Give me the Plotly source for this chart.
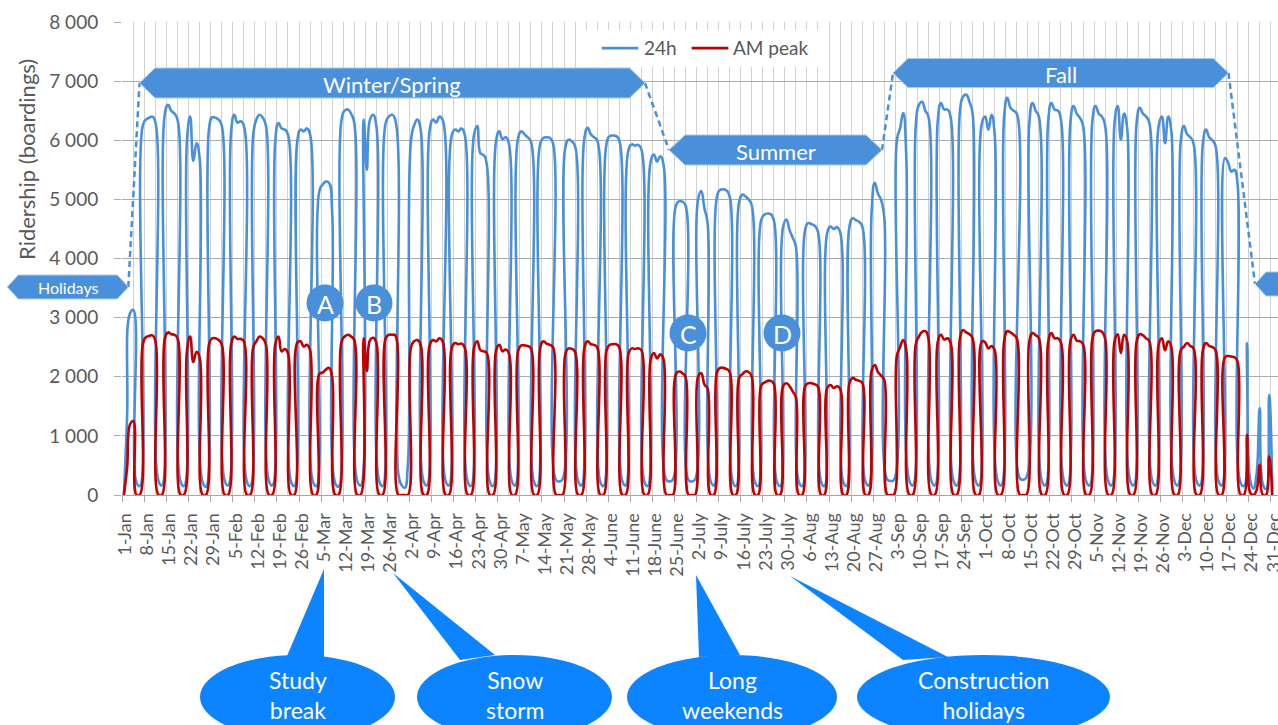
import plotly.graph_objects as go

FIG_W, FIG_H = 1278, 725
PLOT_L, PLOT_R, PLOT_T, PLOT_B = 122, 1278, 22, 495

# Daily boardings for 2013, one row per week (Mon..Sun).
# First row starts on Tuesday 1 January, last row ends on Tuesday 31 December.
boardings_24h = [
    [0, 1300, 3080, 3130, 210, 150],
    [6250, 6350, 6380, 6400, 6300, 230, 160],
    [6450, 6600, 6500, 6450, 6350, 220, 150],
    [6000, 6400, 5650, 5950, 5700, 210, 140],
    [6200, 6390, 6380, 6350, 6250, 230, 160],
    [6150, 6430, 6300, 6320, 6250, 220, 150],
    [6100, 6350, 6430, 6380, 6250, 230, 160],
    [6000, 6290, 6200, 6180, 6100, 220, 150],
    [6000, 6180, 6150, 6200, 6100, 210, 150],
    [5150, 5250, 5300, 5280, 4800, 200, 140],
    [6350, 6500, 6520, 6450, 6300, 230, 160],
    [6350, 5500, 6350, 6430, 6250, 220, 150],
    [6300, 6400, 6430, 6350, 350, 170, 120],
    [500, 6000, 6250, 6350, 6200, 230, 160],
    [6200, 6350, 6300, 6400, 6350, 230, 160],
    [6100, 6180, 6150, 6200, 6100, 220, 150],
    [6100, 6240, 5780, 5750, 5600, 220, 150],
    [6000, 6150, 6020, 6050, 5950, 230, 160],
    [6050, 6150, 6100, 6050, 5980, 220, 150],
    [5950, 6040, 6050, 6040, 5950, 250, 230],
    [260, 5900, 6010, 5980, 5900, 230, 160],
    [6050, 6210, 6100, 6050, 6000, 220, 150],
    [5950, 6070, 6080, 6070, 6000, 230, 160],
    [5850, 5930, 5910, 5920, 5850, 220, 150],
    [5650, 5760, 5640, 5730, 5600, 250, 230],
    [260, 4900, 4970, 4960, 4900, 250, 230],
    [260, 5000, 5140, 4850, 4600, 230, 160],
    [5050, 5160, 5170, 5150, 5050, 220, 150],
    [4950, 5080, 5050, 5000, 4900, 220, 150],
    [4650, 4740, 4760, 4750, 4650, 220, 150],
    [4550, 4660, 4480, 4350, 4200, 210, 150],
    [4500, 4600, 4580, 4550, 4450, 220, 150],
    [4450, 4540, 4500, 4530, 4450, 220, 150],
    [4550, 4680, 4650, 4620, 4550, 230, 160],
    [4800, 5280, 5100, 4990, 4700, 260, 240],
    [250, 6000, 6200, 6460, 5700, 230, 160],
    [6250, 6600, 6650, 6500, 6400, 230, 160],
    [6350, 6630, 6520, 6520, 6400, 230, 160],
    [6500, 6740, 6770, 6650, 6450, 230, 160],
    [6300, 6400, 6180, 6430, 6100, 230, 160],
    [6400, 6720, 6550, 6500, 6450, 280, 260],
    [290, 6300, 6630, 6500, 6400, 230, 160],
    [6350, 6630, 6520, 6500, 6350, 230, 160],
    [6300, 6580, 6450, 6380, 6250, 230, 160],
    [6350, 6580, 6450, 6400, 6250, 230, 160],
    [6300, 6580, 6010, 6450, 6200, 230, 160],
    [6300, 6550, 6450, 6400, 6300, 230, 160],
    [6250, 6400, 5950, 6400, 6150, 230, 160],
    [6000, 6240, 6100, 6050, 5950, 230, 160],
    [5950, 6180, 6050, 6000, 5900, 230, 160],
    [5700, 5620, 5470, 5500, 5250, 200, 150],
    [2570, 250, 110, 350, 1470, 180, 100],
    [1690, 100],
]

boardings_am_peak = [
    [0, 450, 1200, 1250, 0, 0],
    [2550, 2670, 2690, 2700, 2600, 0, 0],
    [2650, 2750, 2720, 2710, 2650, 0, 0],
    [2450, 2680, 2250, 2420, 2330, 0, 0],
    [2550, 2650, 2650, 2620, 2550, 0, 0],
    [2550, 2680, 2640, 2640, 2600, 0, 0],
    [2500, 2600, 2680, 2650, 2550, 0, 0],
    [2550, 2680, 2430, 2470, 2400, 0, 0],
    [2580, 2600, 2510, 2540, 2450, 0, 0],
    [2050, 2070, 2120, 2150, 2000, 0, 0],
    [2600, 2680, 2710, 2680, 2620, 0, 0],
    [2650, 2100, 2620, 2660, 2580, 0, 0],
    [2650, 2710, 2710, 2700, 0, 0, 0],
    [0, 2500, 2600, 2620, 2550, 0, 0],
    [2550, 2620, 2600, 2650, 2600, 0, 0],
    [2500, 2570, 2550, 2560, 2500, 0, 0],
    [2500, 2600, 2450, 2430, 2400, 0, 0],
    [2450, 2540, 2430, 2460, 2400, 0, 0],
    [2450, 2530, 2530, 2520, 2480, 0, 0],
    [2500, 2600, 2560, 2540, 2500, 0, 0],
    [0, 2400, 2480, 2470, 2420, 0, 0],
    [2500, 2600, 2550, 2540, 2500, 0, 0],
    [2450, 2540, 2550, 2550, 2500, 0, 0],
    [2400, 2480, 2470, 2480, 2450, 0, 0],
    [2300, 2400, 2310, 2380, 2300, 0, 0],
    [0, 2050, 2090, 2060, 2000, 0, 0],
    [0, 2000, 2060, 1870, 1800, 0, 0],
    [2080, 2150, 2150, 2130, 2080, 0, 0],
    [1980, 2040, 2090, 2080, 2000, 0, 0],
    [1850, 1900, 1930, 1930, 1880, 0, 0],
    [1850, 1890, 1840, 1750, 1650, 0, 0],
    [1850, 1890, 1890, 1870, 1830, 0, 0],
    [1820, 1860, 1810, 1840, 1800, 0, 0],
    [1900, 1980, 1950, 1930, 1900, 0, 0],
    [2100, 2200, 2080, 2020, 1950, 0, 0],
    [0, 2350, 2500, 2620, 2450, 0, 0],
    [2550, 2680, 2760, 2770, 2650, 0, 0],
    [2600, 2710, 2630, 2650, 2580, 0, 0],
    [2650, 2790, 2750, 2720, 2650, 0, 0],
    [2600, 2580, 2480, 2520, 2450, 0, 0],
    [2600, 2770, 2750, 2710, 2650, 0, 0],
    [0, 2600, 2740, 2700, 2650, 0, 0],
    [2600, 2740, 2650, 2650, 2580, 0, 0],
    [2600, 2710, 2610, 2600, 2550, 0, 0],
    [2650, 2770, 2780, 2760, 2650, 0, 0],
    [2600, 2720, 2400, 2710, 2600, 0, 0],
    [2600, 2720, 2700, 2650, 2600, 0, 0],
    [2550, 2650, 2450, 2600, 2500, 0, 0],
    [2450, 2510, 2570, 2520, 2480, 0, 0],
    [2450, 2570, 2520, 2500, 2450, 0, 0],
    [2330, 2350, 2340, 2330, 2250, 0, 0],
    [1020, 40, 0, 80, 510, 0, 0],
    [650, 0],
]

week_labels = [
    "1-Jan", "8-Jan", "15-Jan", "22-Jan", "29-Jan",
    "5-Feb", "12-Feb", "19-Feb", "26-Feb",
    "5-Mar", "12-Mar", "19-Mar", "26-Mar",
    "2-Apr", "9-Apr", "16-Apr", "23-Apr", "30-Apr",
    "7-May", "14-May", "21-May", "28-May",
    "4-June", "11-June", "18-June", "25-June",
    "2-July", "9-July", "16-July", "23-July", "30-July",
    "6-Aug", "13-Aug", "20-Aug", "27-Aug",
    "3-Sep", "10-Sep", "17-Sep", "24-Sep",
    "1-Oct", "8-Oct", "15-Oct", "22-Oct", "29-Oct",
    "5-Nov", "12-Nov", "19-Nov", "26-Nov",
    "3-Dec", "10-Dec", "17-Dec", "24-Dec", "31-Dec",
]

series_names = ["24h", "AM peak"]
series_colors = ["#4A8FD9", "#C00000"]

BANNER = "#4A8FD9"
CALLOUT = "#0C84FF"
TEXT_GREY = "#595959"
FONT = "Lato"


def flatten(rows):
    return [v for row in rows for v in row]


daily_24h = flatten(boardings_24h)
daily_am = flatten(boardings_am_peak)
n_days = len(daily_24h)
# each day is plotted in the middle of its category slot
day_centre = [i + 0.5 for i in range(n_days)]
week_ticks = [7 * i for i in range(len(week_labels))]

X_MIN = -0.1
X_MAX = X_MIN + (PLOT_R - PLOT_L) / 3.155


def px_x(x):
    return (x - PLOT_L) / (PLOT_R - PLOT_L)


def px_y(y):
    return (PLOT_B - y) / (PLOT_B - PLOT_T)


def banner_path(x_left, x_right, y_mid, half_h, inset):
    pts = [
        (x_left, y_mid), (x_left + inset, y_mid - half_h),
        (x_right - inset, y_mid - half_h), (x_right, y_mid),
        (x_right - inset, y_mid + half_h), (x_left + inset, y_mid + half_h),
    ]
    return "M " + " L ".join(f"{px_x(x):.5f},{px_y(y):.5f}" for x, y in pts) + " Z"


def tri_path(pts):
    return "M " + " L ".join(f"{px_x(x):.5f},{px_y(y):.5f}" for x, y in pts) + " Z"


fig = go.Figure()
fig.add_trace(go.Scatter(
    x=day_centre, y=daily_24h, mode="lines", name=series_names[0],
    line=dict(color=series_colors[0], width=2.6, shape="spline", smoothing=1.3),
    showlegend=False,
))
fig.add_trace(go.Scatter(
    x=day_centre, y=daily_am, mode="lines", name=series_names[1],
    line=dict(color=series_colors[1], width=2.6, shape="spline", smoothing=1.3),
    showlegend=False,
))

shapes = []
annotations = []

# season banners and the dashed links between them
banners = [
    ("Holidays", 7.3, 128.3, 287, 12, 11, 16),
    ("Winter/Spring", 139.5, 645, 83, 15, 15.5, 22),
    ("Summer", 669, 882, 150, 15, 16, 22),
    ("Fall", 893, 1228.5, 73, 14.5, 15, 22),
    ("", 1255, 1376, 284, 12, 11, 16),
]
links = [
    (128.3, 287, 139.5, 83),
    (645, 83, 669, 150),
    (882, 150, 893, 73),
    (1228.5, 73, 1255, 284),
]
for x0, y0, x1, y1 in links:
    shapes.append(dict(
        type="line", xref="paper", yref="paper",
        x0=px_x(x0), y0=px_y(y0), x1=px_x(x1), y1=px_y(y1),
        line=dict(color=series_colors[0], width=2.5, dash="6px,4px"),
    ))
for label, xl, xr, ym, hh, ins, fs in banners:
    shapes.append(dict(
        type="path", xref="paper", yref="paper",
        path=banner_path(xl, xr, ym, hh, ins),
        fillcolor=BANNER, line=dict(color="#A9CBEF", width=1),
    ))
    if label:
        annotations.append(dict(
            xref="paper", yref="paper", x=px_x((xl + xr) / 2), y=px_y(ym + 1),
            text=label, showarrow=False, xanchor="center", yanchor="middle",
            font=dict(family=FONT, size=fs, color="white"),
        ))

# lettered markers
markers = [("A", 325, 303), ("B", 374, 303), ("C", 688, 333), ("D", 782, 333)]
for letter, cx, cy in markers:
    r = 18.5
    shapes.append(dict(
        type="circle", xref="paper", yref="paper",
        x0=px_x(cx - r), x1=px_x(cx + r), y0=px_y(cy + r), y1=px_y(cy - r),
        fillcolor=BANNER, line=dict(color=BANNER, width=0),
    ))
    annotations.append(dict(
        xref="paper", yref="paper", x=px_x(cx), y=px_y(cy + 1),
        text=letter, showarrow=False, xanchor="center", yanchor="middle",
        font=dict(family=FONT, size=25, color="white"),
    ))

# speech-bubble callouts below the axis
callouts = [
    ("Study<br>break", 200, 395, [(324, 569), (287, 656), (324, 657)]),
    ("Snow<br>storm", 417, 612, [(393, 573), (460, 660), (495, 655)]),
    ("Long<br>weekends", 627, 837, [(696, 575), (699, 657), (740, 655)]),
    ("Construction<br>holidays", 857, 1110, [(790, 576), (903, 660), (948, 657)]),
]
for text, ex0, ex1, tail in callouts:
    shapes.append(dict(
        type="path", xref="paper", yref="paper", path=tri_path(tail),
        fillcolor=CALLOUT, line=dict(color=CALLOUT, width=0),
    ))
    shapes.append(dict(
        type="circle", xref="paper", yref="paper",
        x0=px_x(ex0), x1=px_x(ex1), y0=px_y(739), y1=px_y(655),
        fillcolor=CALLOUT, line=dict(color=CALLOUT, width=0),
    ))
    annotations.append(dict(
        xref="paper", yref="paper", x=px_x((ex0 + ex1) / 2), y=px_y(695),
        text=text, showarrow=False, xanchor="center", yanchor="middle",
        font=dict(family=FONT, size=23, color="white"),
    ))

# legend box
shapes.append(dict(
    type="rect", xref="paper", yref="paper",
    x0=px_x(578), x1=px_x(820), y0=px_y(67), y1=px_y(30),
    fillcolor="white", line=dict(width=0),
))
legend_items = [(601.7, 638.3, 641.7), (691.7, 728.3, 730.7)]
for (lx0, lx1, tx), name, color in zip(legend_items, series_names, series_colors):
    shapes.append(dict(
        type="line", xref="paper", yref="paper",
        x0=px_x(lx0), x1=px_x(lx1), y0=px_y(48), y1=px_y(48),
        line=dict(color=color, width=2.75),
    ))
    annotations.append(dict(
        xref="paper", yref="paper", x=px_x(tx), y=px_y(48),
        text=name, showarrow=False, xanchor="left", yanchor="middle",
        font=dict(family=FONT, size=19, color=TEXT_GREY),
    ))

# y-axis title
annotations.append(dict(
    xref="paper", yref="paper", x=px_x(26), y=px_y(160),
    text="Ridership (boardings)", showarrow=False, textangle=-90,
    xanchor="center", yanchor="middle",
    font=dict(family=FONT, size=22, color=TEXT_GREY),
))

fig.update_layout(
    width=FIG_W, height=FIG_H,
    margin=dict(l=PLOT_L, r=FIG_W - PLOT_R, t=PLOT_T, b=FIG_H - PLOT_B),
    paper_bgcolor="white", plot_bgcolor="white",
    separators=". ",
    font=dict(family=FONT, color=TEXT_GREY),
    shapes=shapes, annotations=annotations,
    xaxis=dict(
        range=[X_MIN, X_MAX], tickmode="array", automargin=False,
        tickvals=week_ticks, ticktext=week_labels, tickangle=-90,
        ticks="outside", ticklen=6, tickcolor="#A6A6A6",
        ticklabelshift=3, ticklabelstandoff=4, ticklabeloverflow="allow",
        tickfont=dict(family=FONT, size=18, color=TEXT_GREY),
        showgrid=True, gridcolor="#D0D0D0", gridwidth=1,
        minor=dict(tickmode="linear", tick0=0, dtick=3.5, showgrid=True,
                   gridcolor="#D0D0D0", gridwidth=1, ticks=""),
        showline=True, linecolor="#A6A6A6", linewidth=1,
        zeroline=False, fixedrange=True,
    ),
    yaxis=dict(
        range=[0, 8000], dtick=1000, tickformat=",d", automargin=False,
        ticks="outside", ticklen=7, tickcolor="#ABABAB",
        ticklabelstandoff=12,
        tickfont=dict(family=FONT, size=19, color=TEXT_GREY),
        showgrid=True, gridcolor="#ABABAB", gridwidth=1,
        showline=False, zeroline=False, fixedrange=True,
    ),
)

fig.write_html("out.html")
